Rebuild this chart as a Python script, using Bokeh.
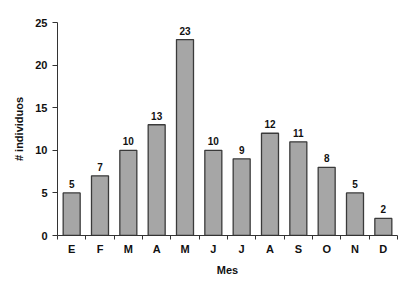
from bokeh.plotting import figure
from bokeh.models import Range1d, FixedTicker, ColumnDataSource, LabelSet
from bokeh.core.properties import value
from bokeh.embed import file_html
from bokeh.resources import INLINE

months = ["E", "F", "M", "A", "M", "J", "J", "A", "S", "O", "N", "D"]
counts = [5, 7, 10, 13, 23, 10, 9, 12, 11, 8, 5, 2]
y_ticks = [0, 5, 10, 15, 20, 25]

centers = [i + 0.5 for i in range(len(months))]
bounds = list(range(len(months) + 1))

src = ColumnDataSource(dict(x=centers, top=counts, lab=[str(c) for c in counts]))

p = figure(width=408, height=282, output_backend="svg", toolbar_location=None,
           x_range=Range1d(0, len(months)), y_range=Range1d(0, 25),
           min_border_left=57, min_border_right=11, min_border_top=22, min_border_bottom=47)
p.frame_width = 340
p.frame_height = 213
p.outline_line_color = None
p.xgrid.visible = False
p.ygrid.visible = False
p.background_fill_color = "white"
p.border_fill_color = "white"

p.vbar(x="x", top="top", width=0.6, bottom=0, source=src,
       fill_color="#a6a6a6", line_color="#3a3a3a", line_width=1.3)

labels = LabelSet(x="x", y="top", text="lab", source=src, text_align="center",
                  text_baseline="bottom", y_offset=5, text_font=value("Liberation Sans"),
                  text_font_size="10px", text_font_style="bold", text_color="#111111")
p.add_layout(labels)

xa = p.xaxis[0]
xa.ticker = FixedTicker(ticks=centers, minor_ticks=bounds)
xa.major_label_overrides = {c: m for c, m in zip(centers, months)}
xa.major_tick_line_color = None
xa.minor_tick_in = 0
xa.minor_tick_out = 4
xa.minor_tick_line_color = "#333333"
xa.axis_line_color = "#333333"
xa.major_label_standoff = 1
xa.major_label_text_font = "Liberation Sans"
xa.major_label_text_font_style = "bold"
xa.major_label_text_font_size = "11px"
xa.major_label_text_color = "#111111"
xa.axis_label = "Mes"
xa.axis_label_text_font = "Liberation Sans"
xa.axis_label_text_font_style = "bold"
xa.axis_label_text_font_size = "11px"
xa.axis_label_text_color = "#111111"
xa.axis_label_standoff = 6

ya = p.yaxis[0]
ya.ticker = FixedTicker(ticks=y_ticks, minor_ticks=[])
ya.major_tick_in = 0
ya.major_tick_out = 5
ya.major_tick_line_color = "#333333"
ya.axis_line_color = "#333333"
ya.major_label_standoff = 5
ya.major_label_text_font = "Liberation Sans"
ya.major_label_text_font_style = "bold"
ya.major_label_text_font_size = "11px"
ya.major_label_text_color = "#111111"
ya.axis_label = "# individuos"
ya.axis_label_text_font = "Liberation Sans"
ya.axis_label_text_font_style = "bold"
ya.axis_label_text_font_size = "11px"
ya.axis_label_text_color = "#111111"
ya.axis_label_standoff = 7

open("out.html", "w").write(file_html(p, INLINE))
